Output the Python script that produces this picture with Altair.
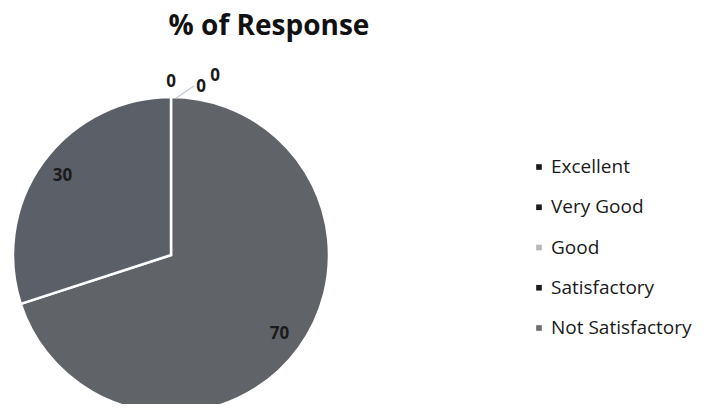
import altair as alt
import pandas as pd

# ---- data ----
categories = ["Excellent", "Very Good", "Good", "Satisfactory", "Not Satisfactory"]
values = [0, 0, 0, 70, 30]
title_text = "% of Response"

# ---- style ----
slice_colors = ["#3a3a3a", "#3a3a3a", "#b0b0b0", "#606469", "#5b5f67"]
legend_colors = ["#1c1c1c", "#1c1c1c", "#b8b8b8", "#1c1c1c", "#6e6e6e"]
zero_offsets = {"Excellent": (0, 0), "Very Good": (30, 5), "Good": (44, -6)}
FONT = "Open Sans"
CX, CY, R = 163, 247, 158

df = pd.DataFrame({
    "category": categories,
    "value": values,
    "idx": list(range(len(categories))),
    "label": [str(v) for v in values],
})

base = alt.Chart(df)
theta = alt.Theta("value:Q", stack=True)
order = alt.Order("idx:Q")

pie = base.mark_arc(outerRadius=R, stroke="white", strokeWidth=2.5).encode(
    theta=theta,
    order=order,
    color=alt.Color("category:N", scale=alt.Scale(domain=categories, range=slice_colors), legend=None),
    x=alt.value(CX), y=alt.value(CY),
)

labels = base.transform_filter("datum.value > 0").mark_text(
    radius=134, fontSize=17, fontWeight="bold", font=FONT, color="#1a1a1a"
).encode(theta=theta, order=order, text="label:N", x=alt.value(CX), y=alt.value(CY))

zero_layers = []
for cat, (dx, dy) in zero_offsets.items():
    zero_layers.append(
        base.transform_filter(alt.datum.category == cat).mark_text(
            radius=173, fontSize=17, fontWeight="bold", font=FONT, color="#1a1a1a", dx=dx, dy=dy
        ).encode(theta=theta, order=order, text="label:N", x=alt.value(CX), y=alt.value(CY))
    )

leader = base.transform_filter(alt.datum.idx == 0).mark_rule(color="#c5ccd4", strokeWidth=1.5).encode(
    x=alt.value(168), y=alt.value(90), x2=alt.value(186), y2=alt.value(78)
)

yleg = alt.Y("category:N", sort=categories, axis=None,
             scale=alt.Scale(type="point", range=[159, 320], padding=0))
leg_sq = base.mark_square(size=32, opacity=1).encode(
    x=alt.value(531), y=yleg,
    color=alt.Color("category:N", scale=alt.Scale(domain=categories, range=legend_colors), legend=None),
)
leg_txt = base.mark_text(align="left", baseline="middle", fontSize=19, font=FONT, color="#1a1a1a").encode(
    x=alt.value(543), y=yleg, text="category:N"
)

title = alt.Chart(pd.DataFrame({"t": [title_text]})).mark_text(
    fontSize=28, fontWeight="bold", font=FONT, color="#111111", baseline="alphabetic"
).encode(x=alt.value(261), y=alt.value(27), text="t:N")

chart = alt.layer(pie, labels, *zero_layers, leader, leg_sq, leg_txt, title).resolve_scale(
    color="independent"
).properties(
    width=691, height=396, padding=0,
    autosize=alt.AutoSizeParams(type="none"),
    background="white",
).configure_view(stroke=None)

chart.save("out.html", embed_options={"renderer": "svg", "actions": False})
